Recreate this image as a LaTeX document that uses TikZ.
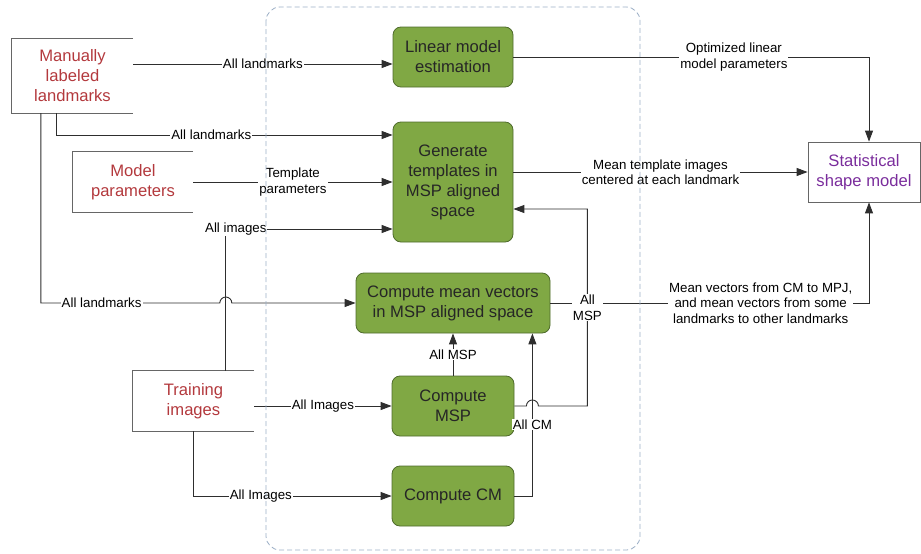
\documentclass[tikz,border=0pt]{standalone}
\usepackage{fontspec}
\setmainfont{Liberation Sans}
\usetikzlibrary{arrows.meta}

\definecolor{boxgreen}{HTML}{80A844}
\definecolor{greenline}{HTML}{4F6B2C}
\definecolor{srcred}{HTML}{B3393D}
\definecolor{ssmpurple}{HTML}{7A2D9C}
\definecolor{linegray}{HTML}{2E2E2E}
\definecolor{boxgray}{HTML}{666666}
\definecolor{dashblue}{HTML}{9CAFC6}

\newcommand{\boxfont}{\fontsize{16.6}{20}\selectfont}
\newcommand{\lblfont}{\fontsize{13.3}{15.5}\selectfont}

\begin{document}
\begin{tikzpicture}[x=1pt,y=-1pt,
  proc/.style={draw=greenline,fill=boxgreen,rounded corners=8pt,line width=0.8pt,align=center,inner sep=0pt,font=\boxfont,text=black!85},
  src/.style={align=center,inner sep=0pt,font=\boxfont,text=srcred},
  boxline/.style={draw=boxgray,line width=0.8pt},
  lbl/.style={fill=white,inner sep=1pt,align=center,font=\lblfont,text=black},
  flow/.style={draw=linegray,line width=0.9pt,-{Triangle[length=11pt,width=8pt]}},
  container/.style={draw=dashblue,line width=0.8pt,dash pattern=on 5pt off 3pt,rounded corners=14pt}]
\useasboundingbox (0,0) rectangle (921,554);

% inputs
\node[src,minimum width=121,minimum height=74] (ml) at (72.5,76) {Manually\\labeled\\landmarks};
\node[src,minimum width=120,minimum height=60] (mp) at (133,182) {Model\\parameters};
\node[src,minimum width=121,minimum height=60] (ti) at (193.5,401) {Training\\images};
\foreach \n in {ml,mp,ti}
  \draw[boxline] (\n.north east) -| (\n.south west) -- (\n.south east);

% processing steps
\node[proc,minimum width=120,minimum height=60] (lin) at (453,57) {Linear model\\estimation};
\node[proc,minimum width=120,minimum height=120] (gen) at (453,182) {Generate\\templates in\\MSP aligned\\space};
\node[proc,minimum width=194,minimum height=60] (cmv) at (453,303) {Compute mean vectors\\in MSP aligned space};
\node[proc,minimum width=122,minimum height=60] (msp) at (453,406) {Compute\\MSP};
\node[proc,minimum width=122,minimum height=60] (cm) at (453,496) {Compute CM};

% output
\node[boxline,align=center,inner sep=0pt,minimum width=112,minimum height=60,font=\boxfont,text=ssmpurple] (ssm) at (864,172) {Statistical\\shape model};

\coordinate (mlA) at ([yshift=12]ml.east);
\coordinate (mlB) at ([xshift=45]ml.south west);
\coordinate (mlC) at ([xshift=29]ml.south west);
\coordinate (tiup) at ([xshift=93]ti.north west);
\coordinate (cmup) at ([xshift=18]cm.east);
\coordinate (genA) at ([yshift=47]gen.west);
\coordinate (genC) at ([yshift=-47]gen.west);
\coordinate (gout) at ([yshift=10]gen.east);
\coordinate (mspin) at ([yshift=-27]gen.east);
\coordinate (hopA) at (tiup |- cmv.west);
\coordinate (hopB) at (cmup |- msp.east);

\draw[flow] (mlA) -- node[lbl]{All landmarks} (mlA -| lin.west);
\draw[flow] (mlB) |- node[lbl,pos=0.73]{All landmarks} (genA);
\draw[flow] (mp.east) -- node[lbl]{Template\\parameters} (gen.west);
\draw[flow] (tiup) |- node[lbl,pos=0.53]{All images} (genC);
\draw[flow] (mlC) |- node[lbl,pos=0.67]{All landmarks} ([xshift=-6]hopA) arc[start angle=180,end angle=360,radius=6] -- (cmv.west);
\draw[flow] (ti.east |- msp.west) -- node[lbl]{All Images} (msp.west);
\draw[flow] (ti.south) |- node[lbl,pos=0.67]{All Images} (cm.west);
\draw[flow] (msp.north) -- node[lbl]{All MSP} (cmv.south);
\draw[flow] (cm.east) -| node[lbl,pos=0.72]{All CM} (cmup |- cmv.south);

\draw[flow] (lin.east) -| node[lbl,pos=0.31]{Optimized linear\\model parameters} ([xshift=5]ssm.north);
\draw[flow] (gout) -- node[lbl]{Mean template images\\centered at each landmark} (gout -| ssm.west);
\draw[flow] (cmv.east) -| node[lbl,pos=0.33]{Mean vectors from CM to MPJ,\\and mean vectors from some\\landmarks to other landmarks} ([xshift=5]ssm.south);
\draw[flow] (msp.east) -- ([xshift=-6]hopB) arc[start angle=180,end angle=360,radius=6] -| node[lbl,pos=0.75]{All\\MSP} ([xshift=74]mspin) -- (mspin);

\draw[container] (266,7) rectangle (640,550);
\end{tikzpicture}
\end{document}
